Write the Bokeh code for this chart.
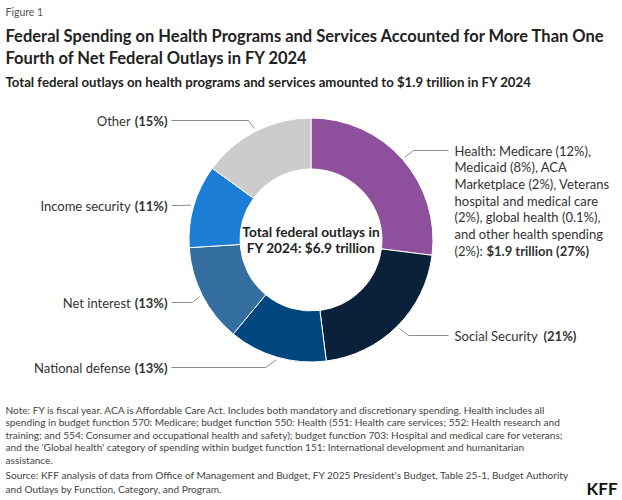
import numpy as np
from bokeh.plotting import figure
from bokeh.models import ColumnDataSource, Range1d
from bokeh.core.properties import value
from bokeh.embed import file_html
from bokeh.resources import INLINE

# ---- data ----
categories = ["Health", "Social Security", "National defense", "Net interest", "Income security", "Other"]
shares = [27, 21, 13, 13, 11, 15]          # percent of net federal outlays, FY 2024
colors = ["#8E4F9D", "#0B2039", "#00467F", "#336E9E", "#1B7DD4", "#CCCCCC"]
label_plain = ["", "Social Security", "National defense", "Net interest", "Income security", "Other"]
label_bold = ["$1.9 trillion (27%)", "(21%)", "(13%)", "(13%)", "(11%)", "(15%)"]
health_lines = ["Health: Medicare (12%),", "Medicaid (8%), ACA", "Marketplace (2%), Veterans",
                "hospital and medical care", "(2%), global health (0.1%),", "and other health spending"]
health_last_plain = "(2%):"
center_lines = ["Total federal outlays in", "FY 2024: $6.9 trillion"]

title_lines = ["Federal Spending on Health Programs and Services Accounted for More Than One",
               "Fourth of Net Federal Outlays in FY 2024"]
subtitle = "Total federal outlays on health programs and services amounted to $1.9 trillion in FY 2024"
note_lines = [
    "Note: FY is fiscal year. ACA is Affordable Care Act. Includes both mandatory and discretionary spending. Health includes all",
    "spending in budget function 570: Medicare; budget function 550: Health (551: Health care services; 552: Health research and",
    "training; and 554: Consumer and occupational health and safety); budget function 703: Hospital and medical care for veterans;",
    "and the 'Global health' category of spending within budget function 151: International development and humanitarian",
    "assistance.",
]
source_lines = [
    "Source: KFF analysis of data from Office of Management and Budget, FY 2025 President's Budget, Table 25-1, Budget Authority",
    "and Outlays by Function, Category, and Program.",
]

FONT = "Lato"
W, H = 622, 500
p = figure(width=W, height=H, x_range=Range1d(0, 622), y_range=Range1d(0, 500),
           output_backend="svg", toolbar_location=None, min_border=0,
           x_axis_location=None, y_axis_location=None)
p.grid.visible = False
p.outline_line_color = None
p.background_fill_color = "white"
p.border_fill_color = "white"


def Y(v):
    return 500 - v


def txt(x, ry, s, size, bold=False, align="left", color="#333333"):
    p.text(x=[x], y=[Y(ry)], text=[s], text_font=value(FONT), text_font_size=f"{size}px",
           text_font_style="bold" if bold else "normal", text_align=align,
           text_baseline="middle", text_color=color)


# ---- donut ----
cx, cy = 310.5, Y(239.5)
r_in, r_out = 71, 122
vals = np.array(shares, dtype=float)
frac = vals / vals.sum()
cum_end = np.cumsum(frac)
cum_start = cum_end - frac
start = np.pi / 2 - 2 * np.pi * cum_start
end = np.pi / 2 - 2 * np.pi * cum_end
src = ColumnDataSource(dict(cat=categories, val=shares, color=colors, start=start, end=end))
p.annular_wedge(x=cx, y=cy, inner_radius=r_in, outer_radius=r_out, start_angle="start",
                end_angle="end", direction="clock", fill_color="color", line_color="white",
                line_width=1, source=src)

# ---- leader lines ----
mid = np.pi / 2 - 2 * np.pi * (cum_start + frac / 2)
r_lead = 125
bend = [(413, 150), (408, 335), (265, 367), (192, 302), (180, 205), (248, 120)]
lend = [(448, 150), (448, 335), (171, 367), (171, 302), (171, 205), (171, 120)]
xs, ys = [], []
for i in range(len(categories)):
    sx = cx + r_lead * np.cos(mid[i])
    sy = cy + r_lead * np.sin(mid[i])
    xs.append([sx, bend[i][0], lend[i][0]])
    ys.append([sy, Y(bend[i][1]), Y(lend[i][1])])
p.multi_line(xs=xs, ys=ys, line_color="#8C8C8C", line_width=1)

# ---- labels ----
LS = 13
left_specs = {2: 367, 3: 302, 4: 205, 5: 120}
for i, ry in left_specs.items():
    txt(167, ry, label_bold[i], LS, bold=True, align="right")
    txt(167 - 36.8, ry, label_plain[i], LS, align="right")
txt(454, 335, label_plain[1], LS)
txt(543, 335, label_bold[1], LS, bold=True)
for k, line in enumerate(health_lines):
    txt(454, 150 + 16.7 * k, line, LS)
txt(454, 150 + 16.7 * 6, health_last_plain, LS)
txt(486, 150 + 16.7 * 6, label_bold[0], LS, bold=True)

# center text
txt(cx, 231, center_lines[0], 13.7, bold=True, align="center", color="#222222")
txt(cx, 247, center_lines[1], 13.7, bold=True, align="center", color="#222222")

# ---- titles ----
txt(5, 11, "Figure 1", 10.5, color="#555555")
txt(5, 35, title_lines[0], 16.5, bold=True, color="#222222")
txt(5, 57, title_lines[1], 16.5, bold=True, color="#222222")
txt(5, 81, subtitle, 13.2, bold=True, color="#222222")

# ---- notes ----
for k, line in enumerate(note_lines):
    txt(5, 409 + 12.6 * k, line, 10.1, color="#444444")
for k, line in enumerate(source_lines):
    txt(5, 474 + 14.8 * k, line, 10.1, color="#444444")

# KFF logo
txt(617, 488, "KFF", 17, bold=True, align="right", color="#111111")

open("out.html", "w").write(file_html(p, INLINE))
